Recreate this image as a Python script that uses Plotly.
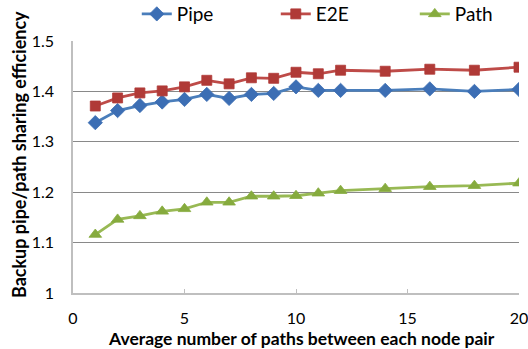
import plotly.graph_objects as go

# Average number of paths between each node pair
paths = [1, 2, 3, 4, 5, 6, 7, 8, 9, 10, 11, 12, 14, 16, 18, 20]

# Backup sharing efficiency per scheme
pipe = [1.338, 1.362, 1.372, 1.379, 1.384, 1.394, 1.386, 1.394, 1.396, 1.409,
        1.402, 1.402, 1.402, 1.405, 1.400, 1.404]
e2e = [1.371, 1.387, 1.397, 1.401, 1.409, 1.422, 1.415, 1.427, 1.426, 1.438,
       1.435, 1.442, 1.440, 1.444, 1.442, 1.448]
path = [1.116, 1.146, 1.153, 1.162, 1.167, 1.180, 1.180, 1.192, 1.192, 1.193,
        1.198, 1.203, 1.207, 1.211, 1.213, 1.218]

x_ticks = [0, 5, 10, 15, 20]
y_ticks = [1, 1.1, 1.2, 1.3, 1.4, 1.5]

x_title = "Average number of paths between each node pair"
y_title = "Backup pipe/path sharing efficiency"

FONT = "Lato, 'Open Sans', sans-serif"

series = [
    ("Pipe", pipe, "#4A7EBB", "#3C6EB4", "diamond", 11),
    ("E2E", e2e, "#BE4B48", "#B03A37", "square", 10),
    ("Path", path, "#98B954", "#86AB3E", "triangle-up", 11),
]

fig = go.Figure()
for name, vals, lc, mc, sym, sz in series:
    fig.add_trace(go.Scatter(
        x=paths, y=vals, name=name, mode="lines+markers",
        line=dict(color=lc, width=2.8),
        marker=dict(symbol=sym, size=sz, color=mc,
                    line=dict(color=mc, width=0.8)),
    ))

# axis titles placed as annotations relative to the plot area
fig.add_annotation(text=f"<b>{x_title}</b>", xref="paper", yref="paper",
                   x=0.513, y=-0.1786, xanchor="center", yanchor="middle",
                   showarrow=False, font=dict(size=17.5))
fig.add_annotation(text=f"<b>{y_title}</b>", xref="paper", yref="paper",
                   x=-0.121, y=0.5476, xanchor="center", yanchor="middle",
                   textangle=-90, showarrow=False, font=dict(size=18))

fig.update_layout(
    width=528, height=349,
    margin=dict(l=73, r=9, t=41, b=56, autoexpand=False),
    paper_bgcolor="white", plot_bgcolor="white",
    font=dict(family=FONT, size=16, color="#000000"),
    showlegend=True,
    legend=dict(orientation="h", x=0.143, xanchor="left", y=1.107,
                yanchor="middle", font=dict(size=19),
                entrywidth=94, entrywidthmode="pixels",
                bgcolor="rgba(0,0,0,0)", itemwidth=30),
    xaxis=dict(
        range=[0, 20], tickvals=x_ticks, showgrid=False, zeroline=False,
        showline=True, linecolor="#BFBFBF", linewidth=1.5,
        ticks="inside", ticklen=4, tickcolor="#BFBFBF",
        ticklabelstandoff=10, ticklabeloverflow="allow", automargin=False,
        tickfont=dict(size=16),
    ),
    yaxis=dict(
        range=[1, 1.5], tickvals=y_ticks, showgrid=True, gridcolor="#898989",
        gridwidth=1, zeroline=False,
        showline=True, linecolor="#BFBFBF", linewidth=1.5,
        ticks="", ticklabelstandoff=14, automargin=False,
        tickfont=dict(size=16),
    ),
)

fig.write_html("out.html")
